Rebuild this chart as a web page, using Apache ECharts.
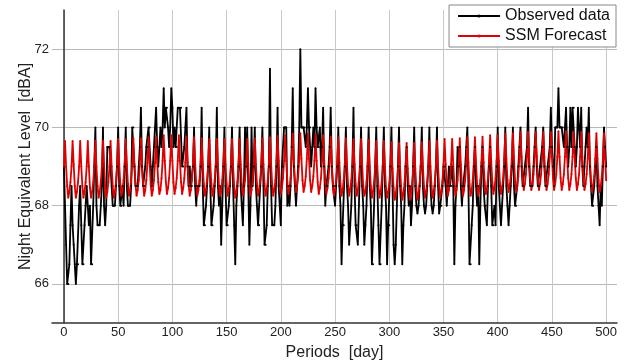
<!DOCTYPE html>
<html><head><meta charset="utf-8">
<script src="https://cdn.jsdelivr.net/npm/echarts@6/dist/echarts.min.js"></script>
<style>html,body{margin:0;padding:0;background:#fff}#c{width:625px;height:364px}</style>
</head><body><div id="c"></div>
<script>
// Observed nightly levels, day 0..500 (one row per week)
const observed = [
69.0,68.0,67.0,66.0,66.0,66.5,67.5,
68.5,67.5,67.0,66.5,66.0,66.5,66.5,
68.0,68.5,67.5,66.5,66.5,67.5,68.0,
68.5,68.0,67.5,68.0,66.5,66.5,68.0,
69.0,70.0,68.0,67.5,67.5,67.5,68.0,
68.5,70.0,68.0,67.5,68.0,69.5,69.5,
69.5,69.0,68.5,68.0,68.0,68.0,68.5,
69.0,70.0,68.5,68.0,68.0,68.5,68.0,
69.0,70.0,68.5,68.0,68.0,68.0,68.5,
70.0,70.0,69.0,68.5,68.5,68.5,69.0,
69.5,70.5,69.0,68.5,68.5,69.0,69.5,
69.5,70.0,70.0,69.0,68.5,69.0,69.5,
70.0,70.5,69.5,69.0,69.5,70.0,69.5,
70.0,71.0,70.0,70.5,70.5,70.0,69.5,
70.0,71.0,70.5,69.5,70.0,69.5,69.5,
70.5,70.5,70.5,70.5,69.0,69.0,69.5,
70.0,70.5,69.0,68.5,69.0,68.5,68.5,
69.0,70.0,68.5,68.0,68.5,68.5,68.5,
69.0,70.5,68.5,67.5,67.5,68.0,68.5,
69.0,70.0,68.5,67.5,67.5,68.0,68.5,
69.0,70.5,68.5,68.0,68.5,67.0,68.0,
69.0,70.0,68.5,67.5,67.5,68.0,68.5,
69.0,70.0,68.5,67.5,66.5,68.0,68.5,
69.0,70.0,68.5,68.0,67.5,68.5,70.0,
69.0,70.0,68.5,67.0,68.0,70.0,68.5,
69.0,70.0,68.5,68.0,67.5,67.5,68.5,
69.0,70.0,68.5,67.0,67.0,67.5,68.5,
69.0,71.5,68.5,67.5,67.5,67.5,68.0,
69.0,70.5,68.5,68.0,67.5,69.0,69.0,
70.0,70.0,70.0,68.0,68.5,68.0,68.5,
69.5,71.0,69.0,68.5,68.0,68.5,69.0,
70.0,72.0,70.0,70.0,70.0,70.0,69.5,
70.0,71.0,70.0,70.0,69.0,69.5,70.0,
69.5,71.0,70.0,69.5,69.5,70.0,69.0,
69.5,70.5,69.0,68.0,68.5,68.5,69.0,
69.5,70.5,69.0,68.5,68.5,68.0,68.5,
69.0,70.0,68.5,68.0,66.5,67.5,67.5,
69.0,70.0,68.5,68.0,67.0,67.5,68.0,
69.0,70.5,68.5,67.5,67.5,67.0,68.0,
69.0,70.0,68.5,68.0,67.0,67.5,68.0,
69.0,70.0,68.5,68.0,66.5,66.5,68.0,
69.0,70.0,68.5,67.5,66.5,66.5,68.0,
69.0,70.0,68.5,68.0,66.5,67.5,67.5,
69.0,70.0,68.5,67.0,66.5,67.0,68.0,
69.0,70.0,68.5,68.0,66.5,67.5,68.0,
69.0,69.5,68.5,68.0,68.5,67.5,68.0,
69.0,70.0,68.5,68.0,67.8,68.0,68.5,
69.0,70.0,68.5,68.0,67.8,68.0,68.5,
69.0,70.0,68.5,68.0,67.8,68.0,68.5,
69.0,70.0,68.5,67.8,68.0,68.0,68.5,
69.0,69.0,68.5,68.0,68.5,69.0,68.5,
68.5,69.0,68.5,66.5,68.0,68.5,69.5,
69.0,69.5,68.5,68.0,68.5,68.5,69.0,
69.5,70.0,68.5,66.5,66.5,67.5,68.0,
69.0,69.5,68.5,68.0,68.5,66.5,68.0,
69.0,69.5,68.5,68.0,68.0,67.5,68.5,
69.0,69.5,68.5,67.5,67.5,68.0,67.5,
69.0,70.0,68.5,68.0,67.5,68.0,68.5,
69.0,70.0,68.5,68.0,67.5,68.0,68.5,
69.0,70.0,68.5,68.0,68.0,68.5,69.0,
69.5,70.0,69.0,68.5,68.5,69.0,69.0,
69.5,70.5,69.0,68.5,68.5,68.5,69.0,
69.5,70.0,69.0,68.5,68.5,69.0,69.0,
69.5,70.0,69.0,68.5,68.5,69.0,69.0,
69.5,70.5,69.5,69.0,68.5,70.0,70.0,
70.0,71.0,70.0,70.0,70.0,70.0,69.5,
70.0,70.5,69.5,69.0,69.5,70.5,69.5,
70.5,70.5,69.5,69.0,69.5,70.5,70.0,
69.5,70.5,69.0,68.5,69.0,69.5,70.0,
69.5,70.5,69.0,68.5,68.0,68.0,68.5,
69.0,69.5,68.5,68.0,67.5,68.5,68.0,
69.0,70.0,69.5,69.0
];
// SSM forecast, day 0..500 (one row per week)
const forecast = [
69.00,69.65,69.00,68.50,68.20,68.35,68.60,
69.00,69.65,69.05,68.50,68.20,68.35,68.60,
69.00,69.65,69.00,68.50,68.20,68.35,68.60,
69.00,69.65,69.00,68.45,68.20,68.35,68.60,
69.00,69.66,69.00,68.50,68.20,68.35,68.60,
69.00,69.66,69.05,68.50,68.20,68.35,68.60,
69.00,69.65,69.00,68.50,68.20,68.35,68.60,
69.05,69.70,69.05,68.55,68.25,68.40,68.65,
69.05,69.70,69.05,68.55,68.25,68.40,68.65,
69.05,69.72,69.05,68.55,68.25,68.40,68.65,
69.05,69.72,69.10,68.55,68.25,68.40,68.65,
69.10,69.75,69.10,68.55,68.25,68.40,68.65,
69.10,69.76,69.10,68.60,68.30,68.40,68.70,
69.15,69.80,69.15,68.60,68.30,68.45,68.70,
69.15,69.80,69.15,68.60,68.30,68.45,68.70,
69.15,69.80,69.15,68.60,68.30,68.45,68.70,
69.10,69.76,69.10,68.55,68.25,68.40,68.65,
69.10,69.75,69.10,68.55,68.25,68.40,68.65,
69.05,69.72,69.05,68.55,68.25,68.40,68.65,
69.05,69.70,69.05,68.55,68.25,68.40,68.65,
69.05,69.70,69.05,68.50,68.25,68.35,68.65,
69.05,69.70,69.05,68.55,68.25,68.40,68.65,
69.05,69.70,69.00,68.50,68.20,68.35,68.60,
69.05,69.70,69.05,68.55,68.25,68.40,68.65,
69.05,69.70,69.05,68.55,68.25,68.40,68.65,
69.05,69.72,69.05,68.55,68.25,68.40,68.65,
69.05,69.72,69.05,68.55,68.25,68.40,68.65,
69.10,69.75,69.10,68.55,68.25,68.40,68.65,
69.15,69.78,69.15,68.60,68.30,68.45,68.70,
69.15,69.80,69.15,68.60,68.30,68.45,68.70,
69.20,69.84,69.20,68.65,68.35,68.50,68.75,
69.20,69.85,69.20,68.65,68.35,68.50,68.75,
69.20,69.85,69.20,68.65,68.35,68.50,68.75,
69.15,69.82,69.15,68.60,68.30,68.45,68.70,
69.15,69.80,69.15,68.60,68.30,68.45,68.70,
69.10,69.76,69.10,68.55,68.25,68.40,68.65,
69.10,69.75,69.10,68.55,68.25,68.40,68.65,
69.05,69.72,69.05,68.55,68.25,68.40,68.65,
69.05,69.70,69.05,68.55,68.25,68.40,68.65,
69.05,69.70,69.05,68.50,68.25,68.35,68.60,
69.00,69.68,69.00,68.50,68.20,68.35,68.60,
69.00,69.65,69.00,68.50,68.20,68.35,68.60,
69.00,69.65,69.00,68.45,68.20,68.35,68.55,
68.95,69.62,68.95,68.45,68.15,68.30,68.55,
68.95,69.60,68.95,68.45,68.15,68.30,68.55,
68.95,69.60,68.95,68.45,68.15,68.30,68.55,
68.95,69.60,68.95,68.45,68.15,68.30,68.55,
69.00,69.62,69.00,68.50,68.20,68.35,68.60,
69.00,69.65,69.00,68.50,68.20,68.35,68.60,
69.00,69.66,69.00,68.50,68.20,68.35,68.60,
69.05,69.70,69.05,68.55,68.25,68.40,68.65,
69.05,69.70,69.05,68.55,68.25,68.40,68.65,
69.05,69.72,69.05,68.55,68.25,68.40,68.65,
69.10,69.75,69.10,68.55,68.25,68.40,68.65,
69.10,69.75,69.10,68.55,68.25,68.40,68.65,
69.10,69.76,69.10,68.60,68.30,68.40,68.70,
69.15,69.80,69.15,68.60,68.30,68.45,68.70,
69.15,69.80,69.15,68.60,68.30,68.45,68.70,
69.20,69.84,69.20,68.65,68.35,68.50,68.75,
69.20,69.85,69.20,68.65,68.35,68.50,68.75,
69.25,69.88,69.25,68.70,68.40,68.55,68.80,
69.25,69.88,69.25,68.70,68.40,68.55,68.80,
69.25,69.88,69.25,68.70,68.40,68.55,68.80,
69.25,69.88,69.25,68.70,68.40,68.55,68.80,
69.25,69.88,69.25,68.70,68.40,68.55,68.80,
69.25,69.90,69.25,68.70,68.40,68.55,68.80,
69.25,69.90,69.25,68.70,68.40,68.55,68.80,
69.25,69.88,69.25,68.70,68.40,68.55,68.80,
69.25,69.88,69.25,68.70,68.40,68.55,68.80,
69.20,69.85,69.20,68.65,68.35,68.50,68.75,
69.20,69.85,69.20,68.65,68.35,68.50,68.75,
69.20,69.85,69.20,68.65
];
const xTicks = [0,50,100,150,200,250,300,350,400,450,500];
const yTicks = [66,68,70,72];
const seriesNames = ['Observed data','SSM Forecast'];

const font = 'Liberation Sans, Arial, sans-serif';
const chart = echarts.init(document.getElementById('c'), null, {renderer:'canvas'});
const toPairs = arr => arr.map((v,i)=>[i,v]);
chart.setOption({
  animation:false,
  backgroundColor:'#fff',
  grid:{left:52,right:8,top:10,bottom:41,containLabel:false,outerBoundsMode:'none'},
  legend:{
    right:9, top:5, orient:'vertical',
    backgroundColor:'#fff', borderColor:'#888', borderWidth:1, borderRadius:0,
    padding:[3,6,3,8], itemGap:4, itemWidth:42, itemHeight:4,
    textStyle:{fontFamily:font,fontSize:16,color:'#111'},
    data:seriesNames
  },
  xAxis:{
    type:'value', min:-11, max:510,
    name:'Periods  [day]', nameLocation:'middle', nameGap:22, nameMoveOverlap:false,
    nameTextStyle:{fontFamily:font,fontSize:16,color:'#222'},
    axisLine:{lineStyle:{color:'#333',width:1.5}},
    axisTick:{show:false, customValues:xTicks},
    axisLabel:{customValues:xTicks, fontFamily:font,fontSize:13,color:'#222',margin:3},
    splitLine:{show:true,lineStyle:{color:'#c8c8c8',width:1}}
  },
  yAxis:{
    type:'value', min:65, max:73,
    name:'Night Equivalent Level  [dBA]', nameLocation:'middle', nameGap:18, nameMoveOverlap:false,
    nameTextStyle:{fontFamily:font,fontSize:16,color:'#222'},
    axisLine:{show:true,lineStyle:{color:'#333',width:1.5}},
    axisTick:{show:false, customValues:yTicks},
    axisLabel:{customValues:yTicks, fontFamily:font,fontSize:13,color:'#222',margin:3},
    splitLine:{show:true,lineStyle:{color:'#b8b8b8',width:1}}
  },
  series:[
    {name:seriesNames[0], type:'line', data:toPairs(observed),
     symbol:'circle', symbolSize:2, showSymbol:true,
     lineStyle:{color:'#000',width:1.8}, itemStyle:{color:'#000'}},
    {name:seriesNames[1], type:'line', data:toPairs(forecast),
     symbol:'circle', symbolSize:2, showSymbol:true,
     lineStyle:{color:'#e00000',width:1.8}, itemStyle:{color:'#e00000'}}
  ]
});
</script></body></html>
